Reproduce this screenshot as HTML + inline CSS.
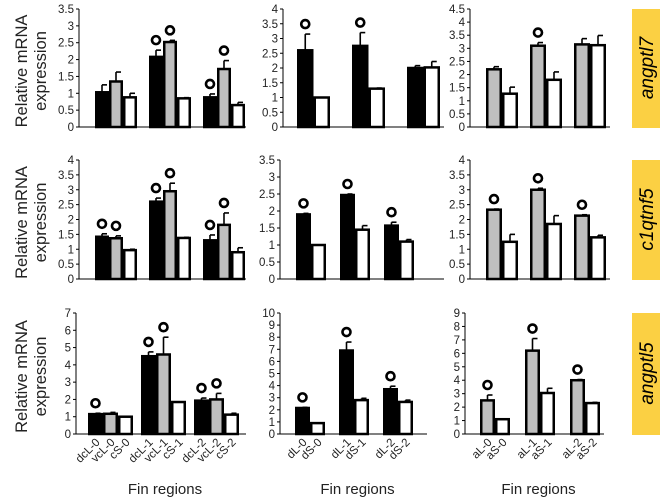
<!DOCTYPE html>
<html><head><meta charset="utf-8"><style>
body{margin:0;background:#fff;}
svg{display:block;font-family:"Liberation Sans",Arial,sans-serif;}
</style></head><body>
<svg id="c" width="660" height="501" viewBox="0 0 660 501"></svg>
<script>
// ----- data -----
const rowGenes = ["angptl7","c1qtnf5","angptl5"];
const leftCats = ["dcL-0","vcL-0","cS-0","dcL-1","vcL-1","cS-1","dcL-2","vcL-2","cS-2"];
const midCats = ["dL-0","dS-0","dL-1","dS-1","dL-2","dS-2"];
const rightCats = ["aL-0","aS-0","aL-1","aS-1","aL-2","aS-2"];
// row 1
const r1LeftBlack=[1.03,2.08,0.88], r1LeftBlackErr=[0.22,0.2,0.1];
const r1LeftGray=[1.35,2.52,1.72], r1LeftGrayErr=[0.28,0.05,0.25];
const r1LeftWhite=[0.88,0.85,0.65], r1LeftWhiteErr=[0.12,0.02,0.08];
const r1MidBlack=[2.6,2.75,2.0], r1MidBlackErr=[0.55,0.45,0.08];
const r1MidWhite=[1.0,1.3,2.02], r1MidWhiteErr=[0,0.02,0.2];
const r1RightGray=[2.2,3.1,3.15], r1RightGrayErr=[0.1,0.12,0.22];
const r1RightWhite=[1.27,1.8,3.12], r1RightWhiteErr=[0.25,0.3,0.37];
// row 2
const r2LeftBlack=[1.42,2.6,1.3], r2LeftBlackErr=[0.1,0.12,0.18];
const r2LeftGray=[1.37,2.95,1.82], r2LeftGrayErr=[0.08,0.27,0.4];
const r2LeftWhite=[0.97,1.38,0.9], r2LeftWhiteErr=[0.03,0.02,0.15];
const r2MidBlack=[1.9,2.47,1.57], r2MidBlackErr=[0.03,0.03,0.1];
const r2MidWhite=[1.0,1.45,1.1], r2MidWhiteErr=[0,0.12,0.06];
const r2RightGray=[2.33,3.0,2.13], r2RightGrayErr=[0.02,0.05,0.03];
const r2RightWhite=[1.25,1.85,1.4], r2RightWhiteErr=[0.25,0.28,0.07];
// row 3
const r3LeftBlack=[1.15,4.5,1.93], r3LeftBlackErr=[0.05,0.25,0.15];
const r3LeftGray=[1.17,4.6,2.0], r3LeftGrayErr=[0.08,1.0,0.35];
const r3LeftWhite=[1.0,1.85,1.12], r3LeftWhiteErr=[0,0,0.08];
const r3MidBlack=[2.15,6.9,3.7], r3MidBlackErr=[0.05,0.7,0.25];
const r3MidWhite=[0.9,2.8,2.65], r3MidWhiteErr=[0,0.15,0.15];
const r3RightGray=[2.5,6.2,4.0], r3RightGrayErr=[0.4,0.9,0.05];
const r3RightWhite=[1.1,3.05,2.3], r3RightWhiteErr=[0,0.35,0.05];
// significance markers (1 = circle)
const r1LeftSig=[[0,1,1],[0,1,1],[0,0,0]], r1MidSig=[[1,1,0],[0,0,0]], r1RightSig=[[0,1,0],[0,0,0]];
const r2LeftSig=[[1,1,1],[1,1,1],[0,0,0]], r2MidSig=[[1,1,1],[0,0,0]], r2RightSig=[[1,1,1],[0,0,0]];
const r3LeftSig=[[1,1,1],[0,1,1],[0,0,0]], r3MidSig=[[1,1,1],[0,0,0]], r3RightSig=[[1,1,1],[0,0,0]];
// axis ranges
const yMax=[[3.5,4,4.5],[4,3.5,4],[7,10,9]];
const yStep=[[0.5,0.5,0.5],[0.5,0.5,0.5],[1,1,1]];

const NS="http://www.w3.org/2000/svg";
const svg=document.getElementById('c');
function el(tag,attrs,parent){const e=document.createElementNS(NS,tag);for(const k in attrs)e.setAttribute(k,attrs[k]);(parent||svg).appendChild(e);return e;}
function fmt(v){return (Math.round(v*10)/10).toString();}

const rowGeom=[{top:9,zero:127},{top:160,zero:279},{top:313,zero:434}];
const colGeom=[
 [{x0:79,x1:246,off:16,sp:54,bw:14},{x0:283,x1:444,off:14,sp:55,bw:16.5},{x0:470,x1:610,off:16,sp:44,bw:16}],
 [{x0:79,x1:246,off:16,sp:54,bw:14},{x0:280,x1:444,off:16,sp:44,bw:15}, {x0:470,x1:610,off:16,sp:44,bw:16}],
 [{x0:76,x1:246,off:12,sp:53,bw:15},{x0:280,x1:427,off:15,sp:44,bw:15},{x0:465,x1:604,off:15,sp:45,bw:15}]
];
const seriesByPanel=[
 [[[r1LeftBlack,r1LeftBlackErr,'#000'],[r1LeftGray,r1LeftGrayErr,'#bfbfbf'],[r1LeftWhite,r1LeftWhiteErr,'#fff']],
  [[r1MidBlack,r1MidBlackErr,'#000'],[r1MidWhite,r1MidWhiteErr,'#fff']],
  [[r1RightGray,r1RightGrayErr,'#bfbfbf'],[r1RightWhite,r1RightWhiteErr,'#fff']]],
 [[[r2LeftBlack,r2LeftBlackErr,'#000'],[r2LeftGray,r2LeftGrayErr,'#bfbfbf'],[r2LeftWhite,r2LeftWhiteErr,'#fff']],
  [[r2MidBlack,r2MidBlackErr,'#000'],[r2MidWhite,r2MidWhiteErr,'#fff']],
  [[r2RightGray,r2RightGrayErr,'#bfbfbf'],[r2RightWhite,r2RightWhiteErr,'#fff']]],
 [[[r3LeftBlack,r3LeftBlackErr,'#000'],[r3LeftGray,r3LeftGrayErr,'#bfbfbf'],[r3LeftWhite,r3LeftWhiteErr,'#fff']],
  [[r3MidBlack,r3MidBlackErr,'#000'],[r3MidWhite,r3MidWhiteErr,'#fff']],
  [[r3RightGray,r3RightGrayErr,'#bfbfbf'],[r3RightWhite,r3RightWhiteErr,'#fff']]]
];
const sigByPanel=[[r1LeftSig,r1MidSig,r1RightSig],[r2LeftSig,r2MidSig,r2RightSig],[r3LeftSig,r3MidSig,r3RightSig]];
const catsByCol=[leftCats,midCats,rightCats];

for(let r=0;r<3;r++){
 const rg=rowGeom[r];
 for(let c=0;c<3;c++){
  const g=colGeom[r][c], mx=yMax[r][c], st=yStep[r][c];
  const y=v=>rg.zero-(v/mx)*(rg.zero-rg.top);
  const p=el('g',{});
  
  
  const ax=el('line',{x1:g.x0,y1:rg.top,x2:g.x0,y2:rg.zero,stroke:'#000','stroke-width':1},p);
  
  
  const n=Math.round(mx/st);
  for(let i=0;i<=n;i++){
   const v=i*st, yy=y(v);
   el('line',{x1:g.x0-3,y1:yy,x2:g.x0,y2:yy,stroke:'#000','stroke-width':1},p);
   const t=el('text',{x:g.x0-5,y:yy+4,'text-anchor':'end','font-size':11.5,fill:'#222'},p);
   t.textContent=fmt(v);
   
   
  }
  const series=seriesByPanel[r][c], ns=series.length, sig=sigByPanel[r][c];
  let ci=0;
  for(let gi=0;gi<3;gi++){
   for(let s=0;s<ns;s++){
    const [vals,errs,fill]=series[s];
    const bx=g.x0+g.off+gi*g.sp+s*g.bw, v=vals[gi], top=y(v), et=y(v+errs[gi]);
    if(errs[gi]>0){
     el('line',{x1:bx+g.bw/2,y1:top,x2:bx+g.bw/2,y2:et,stroke:'#000','stroke-width':1.6},p);
     el('line',{x1:bx+g.bw/2,y1:et,x2:bx+g.bw/2+5,y2:et,stroke:'#000','stroke-width':1.6},p);
    }
    const b=el('rect',{x:bx+1.25,y:top,width:g.bw-2.5,height:rg.zero-top,fill:fill,stroke:'#000','stroke-width':2.5},p);
    
    
    if(sig[s][gi]){
     const o=el('circle',{cx:bx+g.bw/2,cy:et-10,r:4,fill:'none',stroke:'#000','stroke-width':2.6},p);
     
     
    }
    if(r===2){
     const lx=bx+g.bw/2+5, ly=rg.zero+9;
     const t=el('text',{x:lx,y:ly,'text-anchor':'end','font-size':11.5,fill:'#222',transform:'rotate(-45 '+lx+' '+ly+')'},p);
     t.textContent=catsByCol[c][ci];
     
     
    }
    ci++;
   }
  }
  const xa=el('line',{x1:g.x0,y1:rg.zero,x2:g.x1,y2:rg.zero,stroke:'#000','stroke-width':1},p);
  
  
  if(r===2){
   const t=el('text',{x:(g.x0+g.x1)/2+4,y:494,'text-anchor':'middle','font-size':15,fill:'#222'},p);
   t.textContent='Fin regions';
   
   
  }
 }
 const cy=(rg.top+rg.zero)/2;
 const yt=el('text',{x:0,y:0,'text-anchor':'middle','font-size':16.5,fill:'#222',transform:'translate(27 '+(cy+3)+') rotate(-90)'});
 yt.textContent='Relative mRNA';
 
 
 const yt2=el('text',{x:0,y:0,'text-anchor':'middle','font-size':16.5,fill:'#222',transform:'translate(46 '+(cy+3)+') rotate(-90)'});
 yt2.textContent='expression';
 
 
 const gb=el('rect',{x:632,y:rg.top,width:28,height:rg.zero-rg.top+1,fill:'#fbd043'});
 
 
 const gt=el('text',{x:0,y:0,'text-anchor':'middle','font-size':19,'font-style':'italic',fill:'#000',transform:'translate(653 '+cy+') rotate(-90)'});
 gt.textContent=rowGenes[r];
 
 
}
</script>
</body></html>
